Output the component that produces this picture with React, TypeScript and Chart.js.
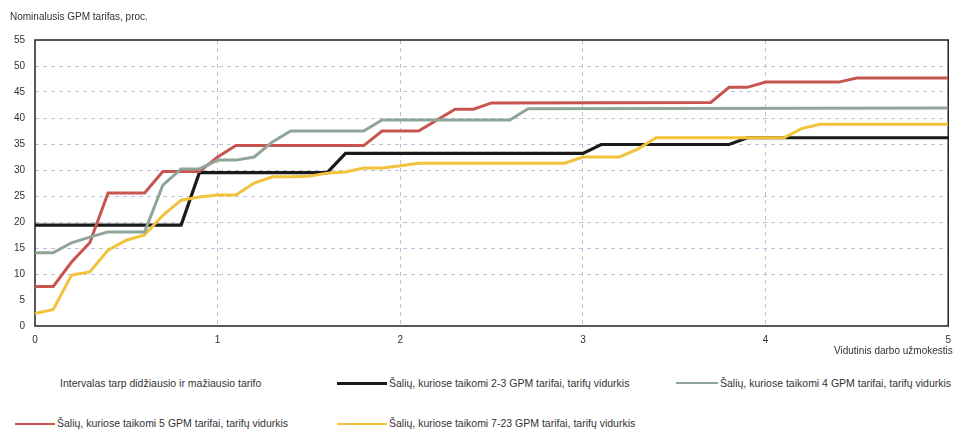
import React, { useEffect, useRef } from "react";
import { Chart, registerables } from "chart.js";
Chart.register(...registerables);

const yTitle = "Nominalusis GPM tarifas, proc.";
const xTitle = "Vidutinis darbo užmokestis";

const xTicks = [0, 1, 2, 3, 4, 5];
const yTicks = [0, 5, 10, 15, 20, 25, 30, 35, 40, 45, 50, 55];

const labelRange = "Intervalas tarp didžiausio ir mažiausio tarifo";
const label23 = "Šalių, kuriose taikomi 2-3 GPM tarifai, tarifų vidurkis";
const label4 = "Šalių, kuriose taikomi 4 GPM tarifai, tarifų vidurkis";
const label5 = "Šalių, kuriose taikomi 5 GPM tarifai, tarifų vidurkis";
const label723 = "Šalių, kuriose taikomi 7-23 GPM tarifai, tarifų vidurkis";

const blackX = [0, 0.8, 0.9, 1.6, 1.7, 3.0, 3.1, 3.8, 3.9, 5];
const blackY = [19.4, 19.4, 29.5, 29.5, 33.2, 33.2, 34.9, 34.9, 36.2, 36.2];

const redX = [0, 0.1, 0.2, 0.3, 0.4, 0.6, 0.7, 0.9, 1.0, 1.1, 1.8, 1.9, 2.1, 2.3, 2.4, 2.5, 3.7, 3.8, 3.9, 4.0, 4.4, 4.5, 5];
const redY = [7.6, 7.6, 12.3, 16, 25.6, 25.6, 29.7, 29.7, 32.5, 34.7, 34.7, 37.5, 37.5, 41.7, 41.7, 42.9, 43.0, 45.9, 45.9, 46.9, 46.9, 47.7, 47.7];

const grayX = [0, 0.1, 0.2, 0.3, 0.4, 0.6, 0.7, 0.8, 0.9, 1.0, 1.1, 1.2, 1.3, 1.4, 1.8, 1.9, 2.6, 2.7, 5];
const grayY = [14.1, 14.1, 16, 17.1, 18.1, 18.1, 27.1, 30.2, 30.2, 31.9, 31.9, 32.5, 35.4, 37.5, 37.5, 39.6, 39.6, 41.8, 41.9];

const yellowX = [0, 0.1, 0.2, 0.3, 0.4, 0.5, 0.6, 0.7, 0.8, 0.9, 1.0, 1.1, 1.2, 1.3, 1.4, 1.5, 1.6, 1.7, 1.8, 1.9, 2.0, 2.1, 2.9, 3.0, 3.2, 3.3, 3.4, 4.1, 4.2, 4.3, 5];
const yellowY = [2.4, 3.2, 9.8, 10.4, 14.6, 16.5, 17.5, 21.3, 24.2, 24.8, 25.2, 25.2, 27.5, 28.7, 28.7, 28.8, 29.4, 29.6, 30.4, 30.4, 30.8, 31.3, 31.3, 32.5, 32.5, 34.0, 36.2, 36.2, 38.0, 38.8, 38.8];

const FONT = "'Liberation Sans', Arial, sans-serif";
const C_BLACK = "#1a1a1a";
const C_RED = "#c85450";
const C_GRAY = "#8fa597";
const C_YELLOW = "#f1c23a";

const pts = (xs: number[], ys: number[]) => xs.map((x, i) => ({ x, y: ys[i] }));

export default function App() {
  const ref = useRef<HTMLCanvasElement>(null);

  useEffect(() => {
    if (!ref.current) return;
    const frame = {
      id: "frame",
      beforeDatasetsDraw(c: any) {
        const { ctx, chartArea: a } = c;
        ctx.save();
        ctx.strokeStyle = "#222";
        ctx.lineWidth = 1.5;
        ctx.setLineDash([]);
        ctx.strokeRect(a.left, a.top, a.right - a.left, a.bottom - a.top);
        ctx.restore();
      },
    };
    const gridColor = (c: any) => {
      const v = c.tick ? c.tick.value : null;
      return v === 0 || v === 5 || v === 55 ? "rgba(0,0,0,0)" : "#bcc0d8";
    };
    const chart = new Chart(ref.current, {
      type: "line",
      data: {
        datasets: [
          { label: label4, data: pts(grayX, grayY), borderColor: C_GRAY, borderWidth: 3 },
          { label: label5, data: pts(redX, redY), borderColor: C_RED, borderWidth: 3 },
          { label: label723, data: pts(yellowX, yellowY), borderColor: C_YELLOW, borderWidth: 3 },
          { label: label23, data: pts(blackX, blackY), borderColor: C_BLACK, borderWidth: 3.2 },
        ].map((d) => ({ ...d, pointRadius: 0, tension: 0, fill: false })),
      },
      options: {
        responsive: false,
        animation: false,
        layout: { padding: { top: 40, right: 9, left: 0, bottom: 0 } },
        plugins: { legend: { display: false }, tooltip: { enabled: false } },
        scales: {
          x: {
            type: "linear",
            min: 0,
            max: 5,
            afterBuildTicks: (s: any) => {
              s.ticks = xTicks.map((v) => ({ value: v }));
            },
            ticks: { font: { family: FONT, size: 10 }, color: "#333", padding: 8 },
            grid: { color: gridColor, drawTicks: false, lineWidth: 1 },
            border: { display: false, dash: [4, 4] },
            afterFit: (s: any) => {
              s.height = 34;
            },
          },
          y: {
            min: 0,
            max: 55,
            afterBuildTicks: (s: any) => {
              s.ticks = yTicks.map((v) => ({ value: v }));
            },
            ticks: { font: { family: FONT, size: 10 }, color: "#333", padding: 10 },
            grid: { color: gridColor, drawTicks: false, lineWidth: 1 },
            border: { display: false, dash: [4, 4] },
            afterFit: (s: any) => {
              s.width = 35;
            },
          },
        },
      },
      plugins: [frame],
    });
    return () => chart.destroy();
  }, []);

  const txt: React.CSSProperties = {
    position: "absolute",
    fontFamily: FONT,
    fontSize: 10.5,
    color: "#333",
    whiteSpace: "nowrap",
    lineHeight: "12px",
  };
  const line = (left: number, right: number, top: number, color: string, h: number): React.CSSProperties => ({
    position: "absolute",
    left,
    top: top - h / 2,
    width: right - left,
    height: h,
    background: color,
  });

  return (
    <div
      style={{
        position: "fixed",
        left: 0,
        top: 0,
        width: 959,
        height: 429,
        overflow: "hidden",
        background: "#fff",
      }}
    >
      <canvas ref={ref} width={959} height={360} style={{ position: "absolute", left: 0, top: 0 }} />
      <div style={{ ...txt, fontSize: 10, left: 10, top: 11 }}>{yTitle}</div>
      <div style={{ ...txt, fontSize: 10, left: 834, top: 345 }}>{xTitle}</div>

      <div style={{ ...txt, left: 60, top: 377 }}>{labelRange}</div>
      <div style={line(337, 387, 383, C_BLACK, 3)} />
      <div style={{ ...txt, left: 389, top: 377 }}>{label23}</div>
      <div style={line(676, 718, 383, C_GRAY, 2)} />
      <div style={{ ...txt, left: 720, top: 377 }}>{label4}</div>

      <div style={line(15, 55, 424, C_RED, 2)} />
      <div style={{ ...txt, left: 57, top: 417 }}>{label5}</div>
      <div style={line(337, 387, 424, C_YELLOW, 2)} />
      <div style={{ ...txt, left: 389, top: 417 }}>{label723}</div>
    </div>
  );
}
